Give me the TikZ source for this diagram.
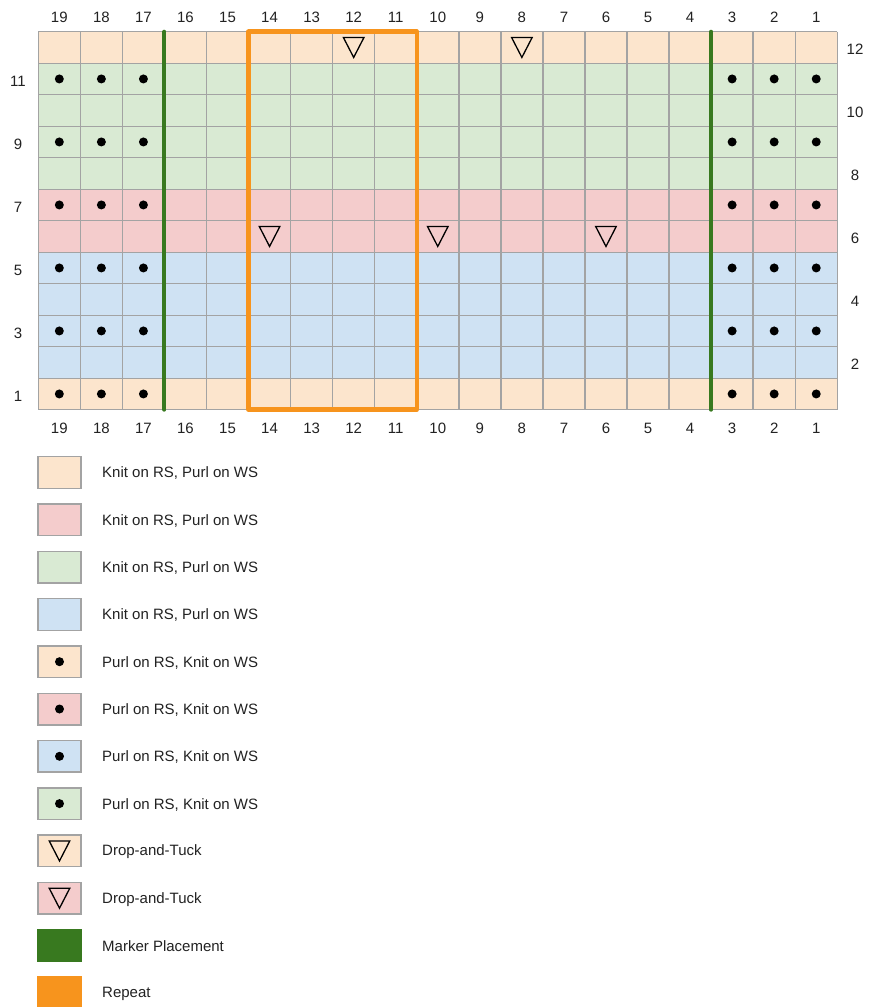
\documentclass[tikz,border=0pt]{standalone}
\usepackage{fontspec}
\setmainfont{Liberation Sans}
\definecolor{cpeach}{HTML}{FCE5CD}
\definecolor{cpink}{HTML}{F4CCCC}
\definecolor{cgreen}{HTML}{D9EAD3}
\definecolor{cblue}{HTML}{CFE2F3}
\definecolor{gridgray}{HTML}{A3A3A3}
\definecolor{markerc}{HTML}{38791F}
\definecolor{repeatc}{HTML}{F7941D}
\definecolor{txtc}{HTML}{222222}
\begin{document}
\begin{tikzpicture}[x=1pt,y=-1pt,
  font=\fontsize{15}{18}\selectfont,
  lbl/.style={inner sep=0pt, anchor=center, text=txtc},
  legtext/.style={inner sep=0pt, anchor=west, text=txtc},
  gridline/.style={draw=gridgray, line width=1.4pt},
  purl/.style={fill=black, circle, inner sep=0pt, minimum size=9pt},
  legbox/.style={draw=gridgray, line width=1.4pt, minimum width=43pt, minimum height=31.6pt, inner sep=0pt},
  solidbox/.style={minimum width=44.4pt, minimum height=33pt, inner sep=0pt},
  markerline/.style={draw=markerc, line width=4pt, line cap=round},
  repeatline/.style={draw=repeatc, line width=4.5pt, line join=round},
  tuck/.pic={\draw[black, line width=1.3pt, line join=miter] (-10.3,-10) -- (10.3,-10) -- (0,10) -- cycle;}
]
\useasboundingbox (0,0) rectangle (885,1007);
\fill[white] (0,0) rectangle (885,1007);

% row bands
\fill[cpeach] (38.3,31.7) rectangle (837.25,63.2);
\fill[cgreen] (38.3,63.2) rectangle (837.25,189.2);
\fill[cpink]  (38.3,189.2) rectangle (837.25,252.2);
\fill[cblue]  (38.3,252.2) rectangle (837.25,378.2);
\fill[cpeach] (38.3,378.2) rectangle (837.25,409.7);

% grid
\foreach \k in {0,...,19}
  \draw[gridline] ({38.3+\k*42.05},31.7) -- ({38.3+\k*42.05},409.7);
\foreach \k in {0,...,12}
  \draw[gridline] (38.3,{31.7+\k*31.5}) -- (837.25,{31.7+\k*31.5});

% purl dots
\foreach \r in {1,3,5,7,9,11}
  \foreach \c in {19,18,17,3,2,1}
    \node[purl] (dot-\r-\c) at ({38.3+(19-\c+0.5)*42.05},{31.7+(12-\r+0.5)*31.5}) {};

% drop-and-tuck
\foreach \r/\c in {12/12,12/8,6/14,6/10,6/6}
  \pic (tri-\r-\c) at ({38.3+(19-\c+0.5)*42.05},{31.7+(12-\r+0.5)*31.5}) {tuck};

% markers
\coordinate (mA1) at (164.45,31.7);
\coordinate (mA2) at (164.45,409.7);
\coordinate (mB1) at (711.1,31.7);
\coordinate (mB2) at (711.1,409.7);
\draw[markerline] (mA1) -- (mA2);
\draw[markerline] (mB1) -- (mB2);

% repeat
\coordinate (rp1) at (248.55,31.7);
\coordinate (rp2) at (416.75,409.7);
\draw[repeatline] (rp1) rectangle (rp2);

% column numbers
\foreach \c in {1,...,19}{
  \node[lbl] (top\c) at ({38.3+(19-\c+0.5)*42.05},17.5) {\c};
  \node[lbl] (bot\c) at ({38.3+(19-\c+0.5)*42.05},428) {\c};
}
% row numbers
\foreach \r in {1,3,5,7,9,11}
  \node[lbl] (left\r) at (18,{31.7+(12-\r+0.5)*31.5+2}) {\r};
\foreach \r in {2,4,6,8,10,12}
  \node[lbl] (right\r) at (855,{31.7+(12-\r+0.5)*31.5+2}) {\r};

% legend
\node[legbox, fill=cpeach] (leg0)  at (59.5,472.5) {};
\node[legbox, fill=cpink]  (leg1)  at (59.5,519.8) {};
\node[legbox, fill=cgreen] (leg2)  at (59.5,567.1) {};
\node[legbox, fill=cblue]  (leg3)  at (59.5,614.4) {};
\node[legbox, fill=cpeach] (leg4)  at (59.5,661.7) {};
\node[legbox, fill=cpink]  (leg5)  at (59.5,709.0) {};
\node[legbox, fill=cblue]  (leg6)  at (59.5,756.3) {};
\node[legbox, fill=cgreen] (leg7)  at (59.5,803.6) {};
\node[legbox, fill=cpeach] (leg8)  at (59.5,850.9) {};
\node[legbox, fill=cpink]  (leg9)  at (59.5,898.2) {};
\node[solidbox, fill=markerc] (leg10) at (59.5,945.5) {};
\node[solidbox, fill=repeatc] (leg11) at (59.5,992.8) {};

\foreach \k in {4,5,6,7}
  \node[purl] (legdot\k) at (leg\k.center) {};
\pic (legtri8) at (leg8.center) {tuck};
\pic (legtri9) at (leg9.center) {tuck};

\node[legtext] (lt0)  at (102,473.5) {Knit on RS, Purl on WS};
\node[legtext] (lt1)  at (102,520.8) {Knit on RS, Purl on WS};
\node[legtext] (lt2)  at (102,568.1) {Knit on RS, Purl on WS};
\node[legtext] (lt3)  at (102,615.4) {Knit on RS, Purl on WS};
\node[legtext] (lt4)  at (102,662.7) {Purl on RS, Knit on WS};
\node[legtext] (lt5)  at (102,710.0) {Purl on RS, Knit on WS};
\node[legtext] (lt6)  at (102,757.3) {Purl on RS, Knit on WS};
\node[legtext] (lt7)  at (102,804.6) {Purl on RS, Knit on WS};
\node[legtext] (lt8)  at (102,851.9) {Drop-and-Tuck};
\node[legtext] (lt9)  at (102,899.2) {Drop-and-Tuck};
\node[legtext] (lt10) at (102,946.5) {Marker Placement};
\node[legtext] (lt11) at (102,993.8) {Repeat};
\end{tikzpicture}
\end{document}
